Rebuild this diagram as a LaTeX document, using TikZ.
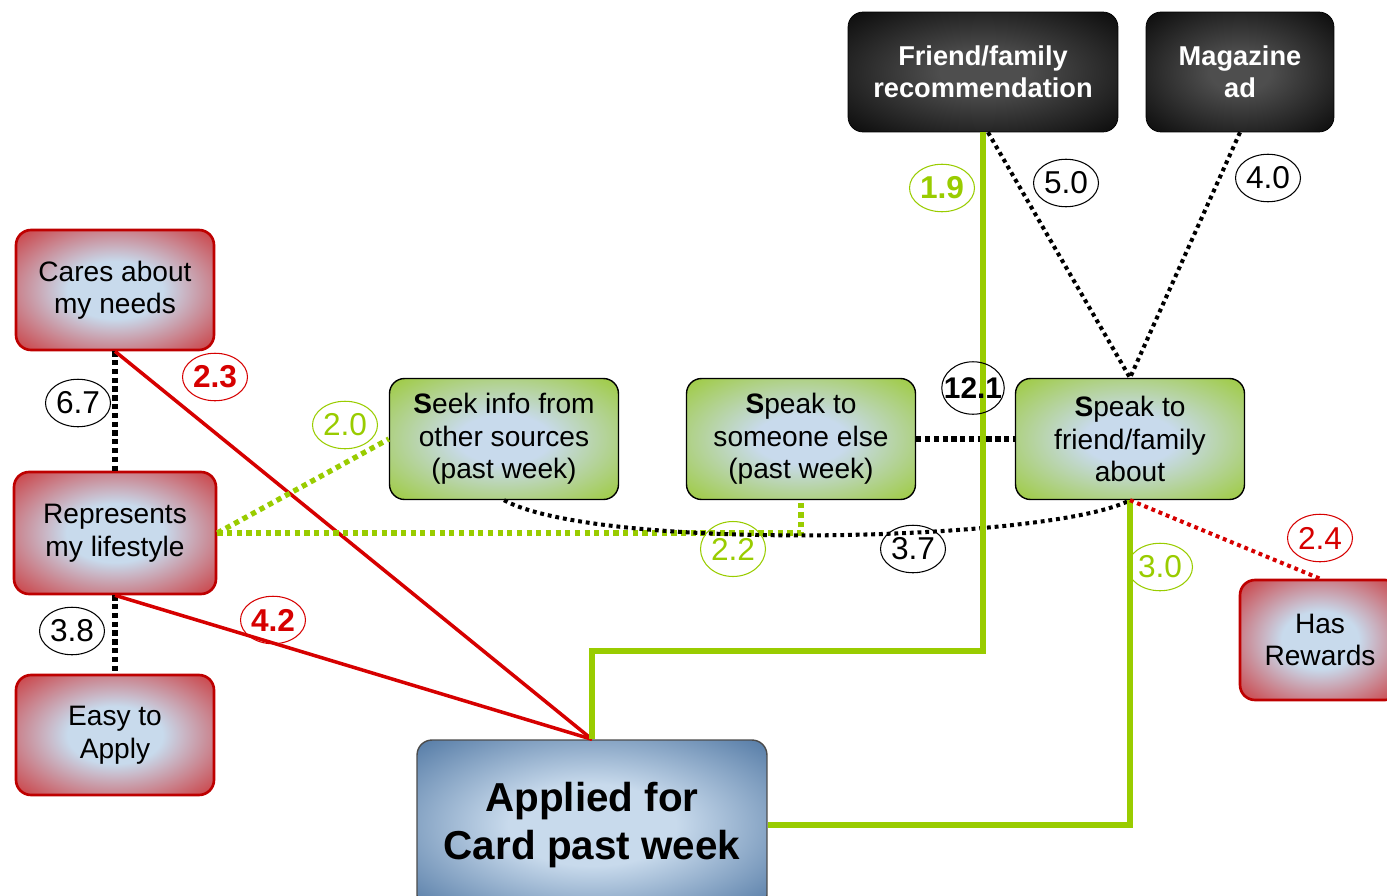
\documentclass[tikz,border=0pt]{standalone}
\usepackage{fontspec}
\setmainfont{Liberation Sans}
\usetikzlibrary{shapes.geometric}
\definecolor{boxred}{RGB}{204,16,16}
\definecolor{edgered}{RGB}{190,0,0}
\definecolor{boxgreen}{RGB}{150,200,30}
\definecolor{boxblue}{RGB}{52,96,146}
\definecolor{paleblue}{RGB}{200,218,236}
\definecolor{darkgrey}{RGB}{78,78,78}
\definecolor{linegreen}{RGB}{153,204,0}
\definecolor{valred}{RGB}{214,0,0}
\pgfdeclareradialshading{redglow}{\pgfpoint{0bp}{0bp}}{color(0bp)=(paleblue); color(12bp)=(paleblue); color(42bp)=(boxred); color(50bp)=(boxred)}
\pgfdeclareradialshading{greenglow}{\pgfpoint{0bp}{0bp}}{color(0bp)=(paleblue); color(10bp)=(paleblue); color(40bp)=(boxgreen); color(50bp)=(boxgreen)}
\pgfdeclareradialshading{blueglow}{\pgfpoint{0bp}{0bp}}{color(0bp)=(paleblue); color(12bp)=(paleblue); color(42bp)=(boxblue); color(50bp)=(boxblue)}
\pgfdeclareradialshading{blackglow}{\pgfpoint{0bp}{0bp}}{color(0bp)=(darkgrey); color(8bp)=(darkgrey); color(40bp)=(black); color(50bp)=(black)}

\begin{document}
\begin{tikzpicture}[x=0.02cm,y=-0.02cm,redbox/.style={draw=edgered,line width=1.5pt,rounded corners=0.3cm,shade,shading=redglow,align=center,minimum width=3.96cm,minimum height=2.4cm,font=\fontsize{16}{18.5}\selectfont},greenbox/.style={draw=black,line width=0.8pt,rounded corners=0.3cm,shade,shading=greenglow,align=center,minimum width=4.58cm,minimum height=2.42cm,font=\fontsize{16}{18.5}\selectfont},blackbox/.style={draw=black,rounded corners=0.3cm,shade,shading=blackglow,text=white,align=center,minimum height=2.4cm,font=\bfseries\fontsize{15.5}{18.5}\selectfont},bluebox/.style={draw=black!70,line width=0.8pt,rounded corners=0.3cm,shade,shading=blueglow,align=center,minimum width=7cm,minimum height=3.4cm,font=\bfseries\fontsize{23}{27.5}\selectfont},val/.style={ellipse,draw,line width=0.6pt,inner sep=0pt,minimum width=1.3cm,minimum height=0.95cm,font=\fontsize{18}{18}\selectfont},blackdot/.style={line width=3.5pt,dash pattern=on 3pt off 2pt},smalldot/.style={line width=2.3pt,dash pattern=on 2.2pt off 2.2pt},greendot/.style={draw=linegreen,line width=3pt,dash pattern=on 3pt off 2.5pt},reddot/.style={draw=valred,line width=2.3pt,dash pattern=on 2.2pt off 2.2pt},redline/.style={draw=valred,line width=2pt},greenline/.style={draw=linegreen,line width=3.4pt}]
\useasboundingbox (0,0) rectangle (1387,896);
% boxes
\node[blackbox,minimum width=5.4cm](rec) at (983,72){Friend/family\\recommendation};
\node[blackbox,minimum width=3.76cm](mag) at (1240,72){Magazine\\ad};
\node[redbox](cares) at (115,290){Cares about\\my needs};
\node[redbox,minimum width=4.04cm,minimum height=2.44cm](life) at (115,533){Represents\\my lifestyle};
\node[redbox](easy) at (115,735){Easy to\\Apply};
\node[greenbox](seek) at (504,439){\textbf{S}eek info from\\other sources\\(past week)};
\node[greenbox](other) at (801,439){\textbf{S}peak to\\someone else\\(past week)};
\node[greenbox](talk) at (1130,439){\textbf{S}peak to\\friend/family\\about};
\node[redbox,minimum width=3.2cm](rew) at (1320,640){Has\\Rewards};
\node[bluebox](card) at (592,825){Applied for\\Card past week};
% links
\draw[blackdot](cares)--(life);\draw[blackdot](life)--(easy);\draw[blackdot](other)--(talk);
\draw[redline](cares.south)--(card.north);\draw[redline](life.south)--(card.north);
\draw[greendot](life.east)--(seek.west);\draw[greendot](life.east)-|(other.south);
\draw[smalldot](seek.south)..controls(600,552)and(1050,542)..(talk.south);
\coordinate(bend) at (983,651);
\draw[greenline](rec.south)--(bend)-|(card.north);\draw[greenline](talk.south)|-(card.east);
\draw[smalldot]([xshift=0.1cm]rec.south)--(talk.north);\draw[smalldot](mag.south)--(talk.north);
\draw[reddot](talk.south)--(rew.north);
% values
\node[val,draw=linegreen,text=linegreen,font=\bfseries\fontsize{18}{18}\selectfont](v19) at (942,188){1.9};
\node[val](v50) at (1066,183){5.0};
\node[val](v40) at (1268,178){4.0};
\node[val,draw=valred,text=valred,font=\bfseries\fontsize{18}{18}\selectfont](v23) at (215,377){2.3};
\node[val](v67) at (78,403){6.7};
\node[val,draw=linegreen,text=linegreen](v20) at (345,425){2.0};
\node[val,inner xsep=-5pt,minimum width=1.25cm,minimum height=1.05cm,font=\bfseries\fontsize{17}{17}\selectfont](v121) at (973,388){12.1};
\node[val,draw=linegreen,text=linegreen,minimum height=1.1cm](v22) at (733,549){2.2};
\node[val](v37) at (913,549){3.7};
\node[val,draw=linegreen,text=linegreen](v30) at (1160,567){3.0};
\node[val,draw=valred,text=valred](v24) at (1320,538){2.4};
\node[val](v38) at (72,631){3.8};
\node[val,draw=valred,text=valred,font=\bfseries\fontsize{18}{18}\selectfont](v42) at (273,620){4.2};
\end{tikzpicture}
\end{document}
